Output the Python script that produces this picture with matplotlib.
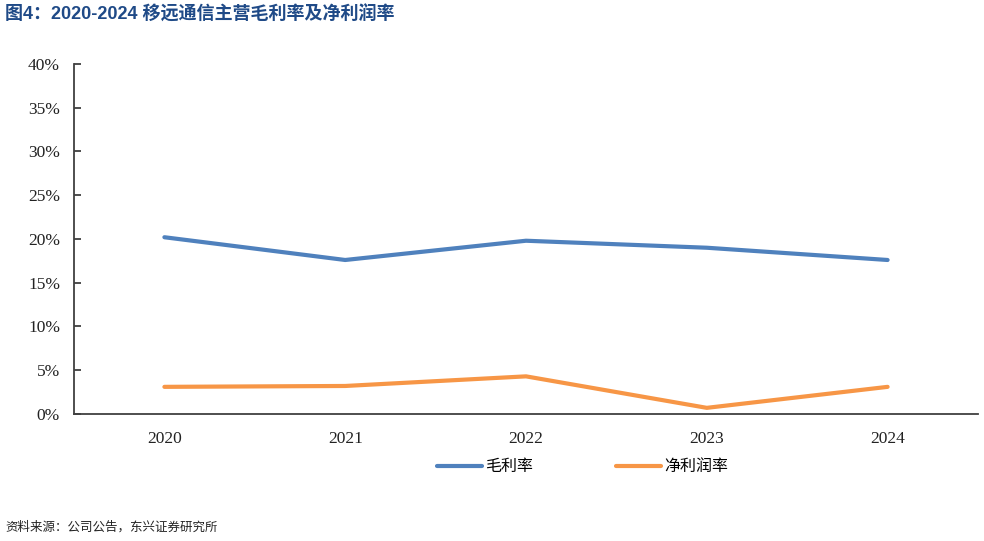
import matplotlib
matplotlib.use('Agg')
import matplotlib.pyplot as plt
from matplotlib.ticker import PercentFormatter

years = ['2020', '2021', '2022', '2023', '2024']
gross_margin = [20.2, 17.6, 19.8, 19.0, 17.6]
net_margin = [3.1, 3.2, 4.3, 0.7, 3.1]
yticks = [0, 5, 10, 15, 20, 25, 30, 35, 40]

cjk = ['Noto Sans CJK SC', 'DejaVu Sans']
plt.rcParams['font.family'] = cjk

fig = plt.figure(figsize=(9.84, 5.41), dpi=100)
ax = fig.add_axes([0.0752, 0.2348, 0.9187, 0.6469])

x = range(len(years))
ax.plot(x, gross_margin, color='#4F81BD', lw=3, label='毛利率', solid_capstyle='round')
ax.plot(x, net_margin, color='#F79646', lw=3, label='净利润率', solid_capstyle='round')

ax.set_xlim(-0.5, len(years) - 0.5)
ax.set_ylim(0, 40)
ax.set_yticks(yticks)
ax.yaxis.set_major_formatter(PercentFormatter(decimals=0))
ax.set_xticks(list(x))
ax.set_xticklabels(years)

for s in ['top', 'right']:
    ax.spines[s].set_visible(False)
for s in ['left', 'bottom']:
    ax.spines[s].set_color('#404040')
    ax.spines[s].set_linewidth(1.3)

ax.tick_params(axis='y', direction='in', length=5, width=1.3, color='#404040', pad=10)
ax.tick_params(axis='x', length=0, pad=12)
for lab in ax.get_yticklabels() + ax.get_xticklabels():
    lab.set_family('Liberation Serif')
    lab.set_fontsize(12.5)
    lab.set_color('#222222')

fig.legend(loc='center', bbox_to_anchor=(0.592, 0.137), ncol=2, frameon=False,
           fontsize=11.5, handlelength=2.8, columnspacing=5.2, handletextpad=0.2)

fig.text(0.005, 0.974, '图4：2020-2024 移远通信主营毛利率及净利润率',
         family=['Liberation Sans', 'Noto Sans CJK SC'], fontweight='bold',
         fontsize=13, color='#1F4A87', va='center', ha='left')
fig.text(0.005, 0.026, '资料来源：公司公告，东兴证券研究所', fontsize=9,
         color='#222222', va='center', ha='left', style='italic')

fig.savefig('out.png', dpi=100)
